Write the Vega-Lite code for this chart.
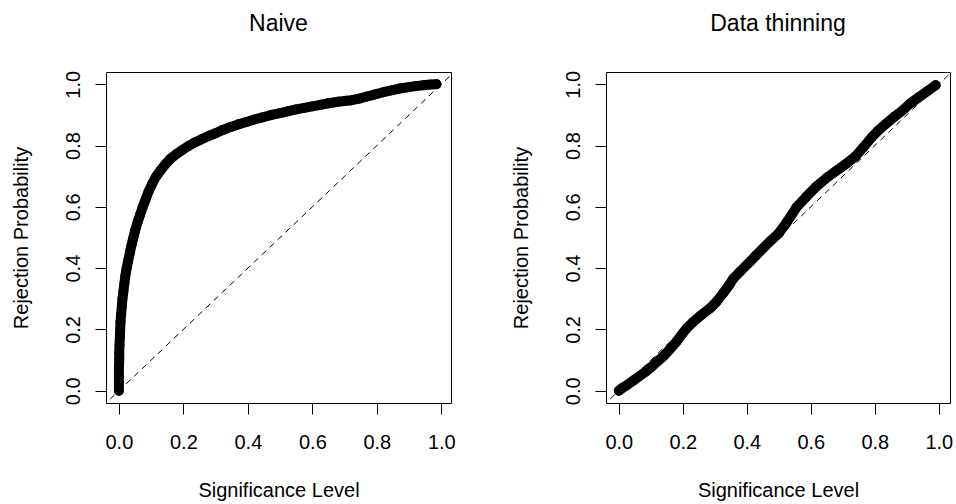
{
  "$schema": "https://vega.github.io/schema/vega-lite/v6.json",
  "background": "white",
  "padding": {"left": 10, "top": 12, "right": 4, "bottom": 2},
  "spacing": 54,
  "datasets": {
    "naive": [
      {"x":0.000,"y":0.000},{"x":0.000,"y":0.025},{"x":0.000,"y":0.05},{"x":0.000,"y":0.075},
      {"x":0.001,"y":0.1},{"x":0.001,"y":0.125},{"x":0.002,"y":0.15},{"x":0.003,"y":0.175},
      {"x":0.004,"y":0.2},{"x":0.005,"y":0.225},{"x":0.007,"y":0.25},{"x":0.009,"y":0.275},
      {"x":0.011,"y":0.3},{"x":0.014,"y":0.325},{"x":0.017,"y":0.35},{"x":0.020,"y":0.375},
      {"x":0.024,"y":0.4},{"x":0.029,"y":0.425},{"x":0.034,"y":0.45},{"x":0.039,"y":0.475},
      {"x":0.045,"y":0.5},{"x":0.051,"y":0.525},{"x":0.058,"y":0.55},{"x":0.066,"y":0.575},
      {"x":0.074,"y":0.6},{"x":0.083,"y":0.625},{"x":0.092,"y":0.65},{"x":0.103,"y":0.675},
      {"x":0.116,"y":0.7},{"x":0.13,"y":0.72},{"x":0.145,"y":0.74},{"x":0.16,"y":0.757},
      {"x":0.178,"y":0.772},{"x":0.196,"y":0.785},{"x":0.215,"y":0.798},{"x":0.235,"y":0.81},
      {"x":0.255,"y":0.82},{"x":0.28,"y":0.832},{"x":0.3,"y":0.84},{"x":0.32,"y":0.85},
      {"x":0.345,"y":0.86},{"x":0.37,"y":0.869},{"x":0.395,"y":0.877},{"x":0.42,"y":0.885},
      {"x":0.445,"y":0.892},{"x":0.47,"y":0.899},{"x":0.5,"y":0.906},{"x":0.526,"y":0.912},
      {"x":0.55,"y":0.918},{"x":0.575,"y":0.923},{"x":0.6,"y":0.928},{"x":0.625,"y":0.933},
      {"x":0.65,"y":0.938},{"x":0.68,"y":0.943},{"x":0.705,"y":0.946},{"x":0.722,"y":0.948},
      {"x":0.745,"y":0.953},{"x":0.77,"y":0.96},{"x":0.795,"y":0.967},{"x":0.82,"y":0.974},
      {"x":0.845,"y":0.98},{"x":0.87,"y":0.986},{"x":0.895,"y":0.99},{"x":0.92,"y":0.994},
      {"x":0.945,"y":0.997},{"x":0.965,"y":0.999},{"x":0.985,"y":1.0}
    ],
    "thin": [
      {"x":0.000,"y":0.000},{"x":0.010,"y":0.008},{"x":0.025,"y":0.018},{"x":0.045,"y":0.033},
      {"x":0.065,"y":0.048},{"x":0.085,"y":0.063},{"x":0.100,"y":0.076},{"x":0.120,"y":0.095},
      {"x":0.140,"y":0.113},{"x":0.160,"y":0.136},{"x":0.180,"y":0.160},{"x":0.200,"y":0.188},
      {"x":0.215,"y":0.207},{"x":0.232,"y":0.224},{"x":0.255,"y":0.245},{"x":0.284,"y":0.268},
      {"x":0.305,"y":0.29},{"x":0.326,"y":0.318},{"x":0.345,"y":0.345},{"x":0.357,"y":0.365},
      {"x":0.38,"y":0.39},{"x":0.409,"y":0.42},{"x":0.43,"y":0.443},{"x":0.451,"y":0.465},
      {"x":0.475,"y":0.49},{"x":0.5,"y":0.514},{"x":0.525,"y":0.55},{"x":0.555,"y":0.598},
      {"x":0.585,"y":0.632},{"x":0.617,"y":0.666},{"x":0.65,"y":0.695},{"x":0.68,"y":0.718},
      {"x":0.71,"y":0.74},{"x":0.74,"y":0.765},{"x":0.765,"y":0.795},{"x":0.792,"y":0.829},
      {"x":0.81,"y":0.848},{"x":0.834,"y":0.87},{"x":0.86,"y":0.893},{"x":0.886,"y":0.914},
      {"x":0.91,"y":0.937},{"x":0.938,"y":0.958},{"x":0.965,"y":0.978},{"x":0.99,"y":0.997}
    ],
    "diag": [{"v":-0.2},{"v":1.2}]
  },
  "config": {
    "font": "Liberation Sans",
    "view": {"stroke": "black", "strokeWidth": 1},
    "title": {"fontSize": 23, "fontWeight": "normal", "color": "black", "anchor": "middle", "frame": "group", "offset": 34},
    "axis": {
      "grid": false, "domain": false,
      "tickColor": "black", "tickSize": 11, "tickWidth": 1,
      "labelFontSize": 20, "labelColor": "black", "labelFlush": false, "labelOverlap": false,
      "titleFontSize": 20, "titleFontWeight": "normal", "titleColor": "black"
    },
    "axisX": {"labelPadding": 18, "titlePadding": 28},
    "axisY": {"labelAngle": -90, "labelAlign": "center", "labelBaseline": "bottom", "labelPadding": 12, "titlePadding": 32}
  },
  "hconcat": [
    {
      "title": "Naive",
      "width": 345,
      "height": 331,
      "layer": [
        {
          "data": {"name": "diag"},
          "mark": {"type": "line", "color": "black", "strokeWidth": 1, "strokeDash": [6, 5], "clip": true},
          "encoding": {
            "x": {"field": "v", "type": "quantitative", "scale": {"domain": [-0.04, 1.03], "nice": false, "zero": false}, "title": "Significance Level", "axis": {"values": [0, 0.2, 0.4, 0.6, 0.8, 1.0], "format": ".1f"}},
            "y": {"field": "v", "type": "quantitative", "scale": {"domain": [-0.04, 1.04], "nice": false, "zero": false}, "title": "Rejection Probability", "axis": {"values": [0, 0.2, 0.4, 0.6, 0.8, 1.0], "format": ".1f"}}
          }
        },
        {
          "data": {"name": "naive"},
          "mark": {"type": "line", "color": "black", "strokeWidth": 10, "strokeCap": "round", "strokeJoin": "round"},
          "encoding": {
            "x": {"field": "x", "type": "quantitative"},
            "y": {"field": "y", "type": "quantitative"},
            "order": {"field": "y", "type": "quantitative"}
          }
        },
        {
          "data": {"name": "naive"},
          "mark": {"type": "point", "shape": "circle", "filled": false, "color": "black", "strokeWidth": 1.2, "size": 75, "opacity": 1},
          "encoding": {
            "x": {"field": "x", "type": "quantitative"},
            "y": {"field": "y", "type": "quantitative"}
          }
        }
      ]
    },
    {
      "title": "Data thinning",
      "width": 344,
      "height": 331,
      "layer": [
        {
          "data": {"name": "diag"},
          "mark": {"type": "line", "color": "black", "strokeWidth": 1, "strokeDash": [6, 5], "clip": true},
          "encoding": {
            "x": {"field": "v", "type": "quantitative", "scale": {"domain": [-0.04, 1.035], "nice": false, "zero": false}, "title": "Significance Level", "axis": {"values": [0, 0.2, 0.4, 0.6, 0.8, 1.0], "format": ".1f"}},
            "y": {"field": "v", "type": "quantitative", "scale": {"domain": [-0.04, 1.04], "nice": false, "zero": false}, "title": "Rejection Probability", "axis": {"values": [0, 0.2, 0.4, 0.6, 0.8, 1.0], "format": ".1f"}}
          }
        },
        {
          "data": {"name": "thin"},
          "mark": {"type": "line", "color": "black", "strokeWidth": 10, "strokeCap": "round", "strokeJoin": "round"},
          "encoding": {
            "x": {"field": "x", "type": "quantitative"},
            "y": {"field": "y", "type": "quantitative"},
            "order": {"field": "y", "type": "quantitative"}
          }
        },
        {
          "data": {"name": "thin"},
          "mark": {"type": "point", "shape": "circle", "filled": false, "color": "black", "strokeWidth": 1.2, "size": 75, "opacity": 1},
          "encoding": {
            "x": {"field": "x", "type": "quantitative"},
            "y": {"field": "y", "type": "quantitative"}
          }
        }
      ]
    }
  ]
}
